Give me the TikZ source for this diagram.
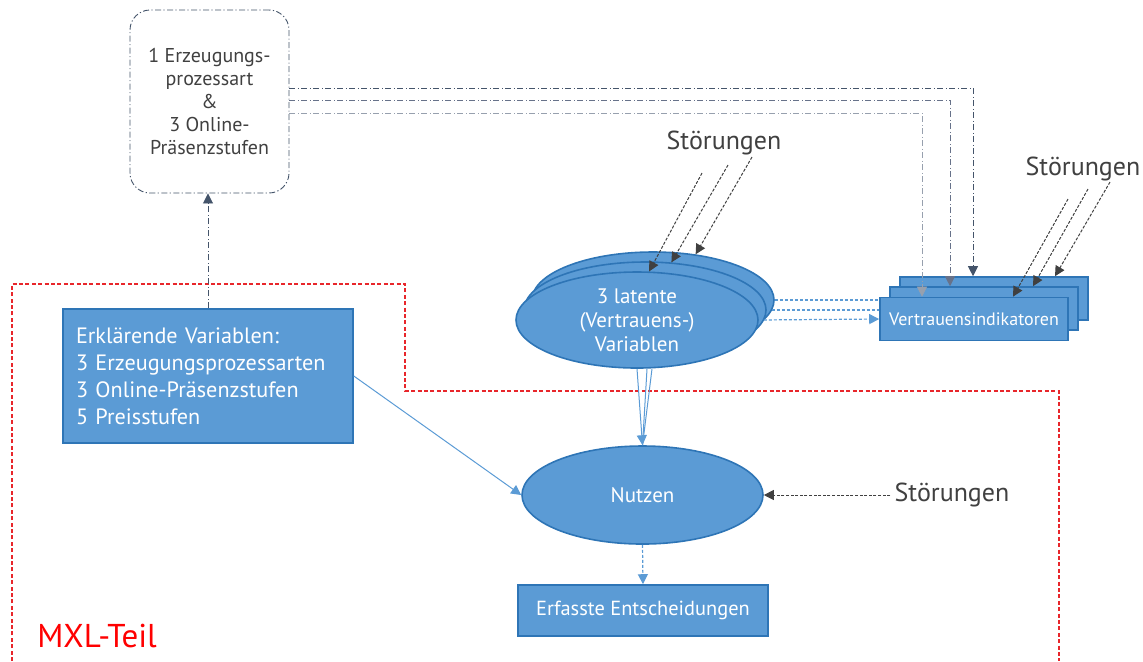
\documentclass[tikz,border=0pt]{standalone}
\usepackage{fontspec}
\setmainfont{PT Sans}
\usetikzlibrary{shapes.geometric,arrows.meta}
\definecolor{accfill}{HTML}{5B9BD5}
\definecolor{accline}{HTML}{2E75B6}
\definecolor{slateA}{HTML}{44546A}
\definecolor{slateB}{HTML}{67728A}
\definecolor{slateC}{HTML}{97A0AE}
\definecolor{darktext}{HTML}{404040}
\definecolor{mxlred}{HTML}{E8262B}
\tikzset{
  modelbox/.style={draw=accline, fill=accfill, text=white, line width=0.8pt, inner sep=0pt},
  latent/.style={ellipse, modelbox, minimum width=121pt, minimum height=48pt},
  dashdotline/.style={line width=0.45pt, dash pattern=on 3pt off 1.2pt on 0.6pt off 1.2pt},
  noise/.style={darktext, line width=0.5pt, dash pattern=on 1.5pt off 0.8pt, -{Triangle[length=5pt,width=5pt]}},
  flow/.style={accfill, line width=0.5pt},
  feed/.style={accfill, line width=0.6pt, dash pattern=on 1.5pt off 1pt},
  bigtip/.style={-{Triangle[length=5pt,width=5pt]}},
  stoerung/.style={darktext, font=\fontsize{13}{15}\selectfont, inner sep=2pt}
}
\begin{document}
\begin{tikzpicture}[x=0.5pt, y=-0.5pt]
  \useasboundingbox (0,0) rectangle (1143,661);

  % MXL-Teil boundary
  \draw [mxlred, line width=0.65pt, dash pattern=on 2pt off 1.2pt]
    (12,661) -- (12,284) -- (405,284) -- (405,391) -- (1059,391) -- (1059,661);
  \node (mxl) at (97,636) [red, font=\fontsize{16.5}{18}\selectfont] {MXL-Teil};

  % boxes
  \node (proc) at (209.5,101.5) [draw=slateA, dashdotline, rounded corners=10pt,
    minimum width=79.5pt, minimum height=91.5pt, inner sep=0pt, align=center,
    text=darktext, font=\fontsize{10}{11.5}\selectfont]
    {1 Erzeugungs-\\prozessart\\\&\\3 Online-\\Präsenzstufen};
  \node (expl) at (208,376) [modelbox, minimum width=145pt, minimum height=67pt,
    text width=132pt, inner xsep=6.5pt, align=left, font=\fontsize{11.1}{13.5}\selectfont]
    {Erklärende Variablen:\\3 Erzeugungsprozessarten\\3 Online-Präsenzstufen\\5 Preisstufen};

  \node (lat3) at (653,300) [latent] {};
  \node (lat2) at (645,310) [latent] {};
  \node (lat1) at (637,320) [latent, align=center, font=\fontsize{10.5}{12}\selectfont]
    {3 latente\\(Vertrauens-)\\Variablen};

  \node (ind3) at (994,298.5) [modelbox, minimum width=94pt, minimum height=21.5pt] {};
  \node (ind2) at (984,308.5) [modelbox, minimum width=94pt, minimum height=21.5pt] {};
  \node (ind1) at (974,319) [modelbox, minimum width=94pt, minimum height=21.5pt,
    font=\fontsize{9}{10}\selectfont] {Vertrauensindikatoren};

  \node (nutz) at (642.5,495) [ellipse, modelbox, minimum width=120.5pt, minimum height=49pt,
    font=\fontsize{10.5}{12}\selectfont] {Nutzen};
  \node (dec) at (643,610.5) [modelbox, minimum width=125pt, minimum height=25.5pt,
    font=\fontsize{10.2}{12}\selectfont] {Erfasste Entscheidungen};

  % Störungen
  \node (stA) at (724,143) [stoerung] {Störungen};
  \node (stB) at (1083,169) [stoerung] {Störungen};
  \node (stC) at (952,495) [stoerung] {Störungen};

  % links to the indicators
  \draw [slateA, dashdotline, bigtip] (proc.east |- 0,88) -| ([xshift=-10.5pt]ind3.north);
  \draw [slateB, dashdotline, bigtip] (proc.east |- 0,100) -| ([xshift=-17pt]ind2.north);
  \draw [slateC, dashdotline, bigtip] (proc.east |- 0,113) -| ([xshift=-26pt]ind1.north);
  \draw [slateA, dashdotline, bigtip] (expl.north) -- (expl.north |- proc.south);

  \draw [feed] (lat3.east) -- (lat3.east -| ind1.west);
  \draw [feed] (lat2.east) -- (lat2.east -| ind1.west);
  \draw [feed, bigtip] (lat1.east) -- (ind1.west);

  % into Nutzen
  \draw [flow] ([xshift=5pt]lat1.south) -- (nutz.north);
  \draw [flow] ([xshift=7.5pt]lat1.south) -- (nutz.north);
  \draw [flow, bigtip] (lat1.south) -- (nutz.north);
  \draw [flow, bigtip] (expl.east) -- (nutz.west);
  \draw [feed, bigtip] (nutz.south) -- (dec.north);

  % disturbances
  \coordinate (nA1) at (702,173);
  \coordinate (nA2) at (728,165);
  \coordinate (nA3) at (752,157);
  \draw [noise] (nA1) -- (lat1.76);
  \draw [noise] (nA2) -- (lat2.61);
  \draw [noise] (nA3) -- (lat3.47);
  \coordinate (nB1) at (1068,199);
  \coordinate (nB2) at (1088,189);
  \coordinate (nB3) at (1110,182);
  \draw [noise] (nB1) -- ([xshift=19.5pt]ind1.north);
  \draw [noise] (nB2) -- ([xshift=24.5pt]ind2.north);
  \draw [noise] (nB3) -- ([xshift=30.5pt]ind3.north);
  \draw [noise] (stC.west) -- (nutz.east);
\end{tikzpicture}
\end{document}
